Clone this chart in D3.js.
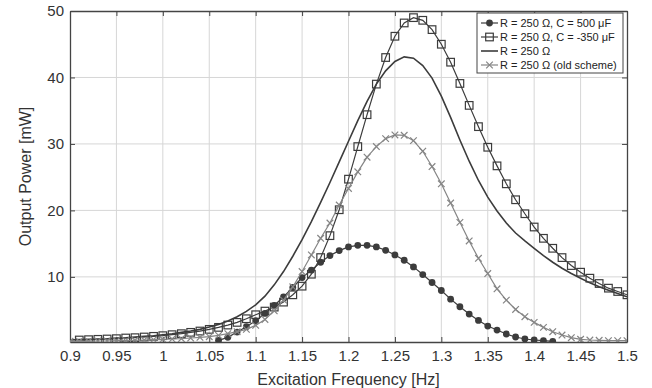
<!DOCTYPE html>
<html>
<head>
<meta charset="UTF-8">
<script src="https://d3js.org/d3.v7.min.js"></script>
<style>
  body { margin: 0; background: #fff; }
  text { font-family: "Liberation Sans", Arial, sans-serif; }
</style>
</head>
<body>
<svg id="chart" width="652" height="388"></svg>
<script>
// excitation frequency grid [Hz]
const freqs = [0.90, 0.91, 0.92, 0.93, 0.94, 0.95, 0.96, 0.97, 0.98, 0.99,
               1.00, 1.01, 1.02, 1.03, 1.04, 1.05, 1.06, 1.07, 1.08, 1.09,
               1.10, 1.11, 1.12, 1.13, 1.14, 1.15, 1.16, 1.17, 1.18, 1.19,
               1.20, 1.21, 1.22, 1.23, 1.24, 1.25, 1.26, 1.27, 1.28, 1.29,
               1.30, 1.31, 1.32, 1.33, 1.34, 1.35, 1.36, 1.37, 1.38, 1.39,
               1.40, 1.41, 1.42, 1.43, 1.44, 1.45, 1.46, 1.47, 1.48, 1.49, 1.50];

// output power [mW], null = not measured
const powerC500 = [null, null, null, null, null, null, null, null, null, null,
                   null, null, null, null, null, null, 0.45, 0.9, 1.7, 2.5,
                   3.4, 4.5, 5.7, 7.0, 8.4, 9.9, 11.0, 12.2, 13.2, 13.95,
                   14.5, 14.75, 14.75, 14.5, 14.0, 13.3, 12.5, 11.5, 10.35, 9.15,
                   7.95, 6.65, 5.5, 4.4, 3.45, 2.6, 2.0, 1.4, 0.95, 0.65,
                   0.5, 0.4, 0.3, null, null, null, null, null, null, null, null];

const powerCm350 = [null, 0.5, 0.55, 0.6, 0.65, 0.7, 0.8, 0.85, 0.95, 1.05,
                    1.15, 1.3, 1.45, 1.65, 1.85, 2.1, 2.4, 2.75, 3.15, 3.7,
                    4.3, 4.85, 5.45, 6.2, 7.3, 8.6, 10.4, 12.9, 16.2, 20.1,
                    24.7, 29.6, 34.4, 39.0, 43.0, 46.2, 48.2, 49.0, 48.6, 47.2,
                    45.0, 42.3, 39.1, 35.8, 32.6, 29.5, 26.7, 24.0, 21.6, 19.5,
                    17.5, 15.8, 14.3, 12.9, 11.7, 10.7, 9.8, 9.0, 8.3, 7.8, 7.3];

const powerR250 = [0.5, 0.55, 0.6, 0.65, 0.7, 0.8, 0.85, 0.95, 1.05, 1.15,
                   1.3, 1.45, 1.65, 1.85, 2.1, 2.45, 2.85, 3.35, 4.0, 4.8,
                   5.8, 7.1, 8.8, 10.8, 13.1, 15.6, 18.3, 21.2, 24.2, 27.3,
                   30.4, 33.5, 36.4, 39.0, 41.0, 42.4, 43.1, 42.9, 41.8, 39.9,
                   37.2, 34.0, 30.6, 27.4, 24.5, 22.0, 19.9, 18.1, 16.6, 15.4,
                   14.3, 13.2, 12.2, 11.3, 10.5, 9.8, 9.1, 8.5, 8.0, 7.5, 7.0];

const powerOld = [0.3, 0.3, 0.3, 0.35, 0.35, 0.4, 0.4, 0.45, 0.5, 0.55,
                  0.6, 0.65, 0.7, 0.8, 0.9, 1.0, 1.2, 1.45, 1.75, 2.1,
                  2.7, 3.6, 4.9, 6.5, 8.5, 10.8, 13.3, 15.8, 18.1, 20.8,
                  23.3, 25.8, 28.0, 29.6, 30.8, 31.35, 31.3, 30.5, 28.9, 26.6,
                  24.0, 21.1, 18.2, 15.4, 12.8, 10.5, 8.2, 6.5, 5.1, 4.0,
                  3.15, 2.4, 1.75, 1.25, 0.85, 0.6, 0.5, 0.45, 0.4, 0.4, 0.4];

const seriesNames = ["R = 250 \u03A9, C = 500 \u03BCF", "R = 250 \u03A9, C = -350 \u03BCF",
                     "R = 250 \u03A9", "R = 250 \u03A9 (old scheme)"];
const xTicks = [0.9, 0.95, 1, 1.05, 1.1, 1.15, 1.2, 1.25, 1.3, 1.35, 1.4, 1.45, 1.5];
const yTicks = [10, 20, 30, 40, 50];

const width = 652, height = 388;
const margin = { top: 11, right: 25, bottom: 46, left: 70 };
const dark = "#3c3c3c", light = "#858585";

const svg = d3.select("#chart");

const x = d3.scaleLinear().domain([0.9, 1.5]).range([margin.left, width - margin.right]);
const y = d3.scaleLinear().domain([0.2, 50]).range([height - margin.bottom, margin.top]);

svg.append("defs").append("clipPath").attr("id", "clip")
  .append("rect")
  .attr("x", margin.left).attr("y", margin.top)
  .attr("width", width - margin.left - margin.right)
  .attr("height", height - margin.top - margin.bottom);

// grid
svg.append("g")
  .selectAll("line.vx").data(xTicks.slice(1, -1)).enter().append("line")
  .attr("x1", d => x(d)).attr("x2", d => x(d))
  .attr("y1", margin.top).attr("y2", height - margin.bottom)
  .attr("stroke", "#d6d6d6").attr("stroke-width", 1);
svg.append("g")
  .selectAll("line.hy").data(yTicks.slice(0, -1)).enter().append("line")
  .attr("x1", margin.left).attr("x2", width - margin.right)
  .attr("y1", d => y(d)).attr("y2", d => y(d))
  .attr("stroke", "#d6d6d6").attr("stroke-width", 1);

// axes, ticks inside on all four sides
const fmtX = d => String(d);
const axB = svg.append("g").attr("transform", `translate(0,${height - margin.bottom})`)
  .call(d3.axisBottom(x).tickValues(xTicks).tickSizeInner(-5).tickSizeOuter(0).tickPadding(8).tickFormat(fmtX));
const axT = svg.append("g").attr("transform", `translate(0,${margin.top})`)
  .call(d3.axisTop(x).tickValues(xTicks).tickSizeInner(-5).tickSizeOuter(0).tickFormat(""));
const axL = svg.append("g").attr("transform", `translate(${margin.left},0)`)
  .call(d3.axisLeft(y).tickValues(yTicks).tickSizeInner(-5).tickSizeOuter(0).tickPadding(6));
const axR = svg.append("g").attr("transform", `translate(${width - margin.right},0)`)
  .call(d3.axisRight(y).tickValues(yTicks).tickSizeInner(-5).tickSizeOuter(0).tickFormat(""));

[axB, axT, axL, axR].forEach(a => {
  a.select(".domain").attr("stroke", "#444").attr("stroke-width", 1.3);
  a.selectAll(".tick line").attr("stroke", "#444");
  a.selectAll("text").attr("fill", "#333").style("font-size", "15px")
    .style("font-family", "'Liberation Sans', Arial, sans-serif");
});

// axis titles
svg.append("text")
  .attr("x", (margin.left + width - margin.right) / 2).attr("y", 385)
  .attr("text-anchor", "middle").attr("fill", "#333").style("font-size", "16px")
  .text("Excitation Frequency [Hz]");
svg.append("text")
  .attr("transform", `translate(31,${(margin.top + height - margin.bottom) / 2}) rotate(-90)`)
  .attr("text-anchor", "middle").attr("fill", "#333").style("font-size", "16px")
  .text("Output Power [mW]");

// series
const toPts = vals => freqs.map((f, i) => ({ f, v: vals[i] })).filter(d => d.v !== null);
const line = d3.line().x(d => x(d.f)).y(d => y(d.v));
const plot = svg.append("g").attr("clip-path", "url(#clip)");

const series = [
  { name: seriesNames[0], pts: toPts(powerC500), color: dark, marker: "circle", lw: 1.2 },
  { name: seriesNames[1], pts: toPts(powerCm350), color: dark, marker: "square", lw: 1.2 },
  { name: seriesNames[2], pts: toPts(powerR250), color: dark, marker: null, lw: 1.6 },
  { name: seriesNames[3], pts: toPts(powerOld), color: light, marker: "cross", lw: 1.2 }
];

function drawMarker(g, type, cx, cy, color) {
  if (type === "circle") {
    g.append("circle").attr("cx", cx).attr("cy", cy).attr("r", 3.4).attr("fill", color);
  } else if (type === "square") {
    g.append("rect").attr("x", cx - 3.8).attr("y", cy - 3.8).attr("width", 7.6).attr("height", 7.6)
      .attr("fill", "none").attr("stroke", color).attr("stroke-width", 1.2);
  } else if (type === "cross") {
    const s = 3.3;
    g.append("path").attr("d", `M${cx - s},${cy - s}L${cx + s},${cy + s}M${cx - s},${cy + s}L${cx + s},${cy - s}`)
      .attr("stroke", color).attr("stroke-width", 1.2).attr("fill", "none");
  }
}

series.forEach(s => {
  plot.append("path").datum(s.pts).attr("d", line)
    .attr("fill", "none").attr("stroke", s.color).attr("stroke-width", s.lw);
  if (s.marker) {
    const mg = plot.append("g");
    s.pts.forEach(d => drawMarker(mg, s.marker, x(d.f), y(d.v), s.color));
  }
});

// legend
const lg = svg.append("g");
lg.append("rect").attr("x", 477).attr("y", 13).attr("width", 146).attr("height", 60)
  .attr("fill", "#fff").attr("stroke", "#444").attr("stroke-width", 1);
series.forEach((s, i) => {
  const ly = 23 + i * 14;
  lg.append("line").attr("x1", 481).attr("x2", 498).attr("y1", ly).attr("y2", ly)
    .attr("stroke", s.color).attr("stroke-width", s.lw);
  if (s.marker) drawMarker(lg, s.marker, 489.5, ly, s.color);
  lg.append("text").attr("x", 500).attr("y", ly + 4).attr("fill", "#222")
    .style("font-size", "11px").text(s.name);
});
</script>
</body>
</html>
